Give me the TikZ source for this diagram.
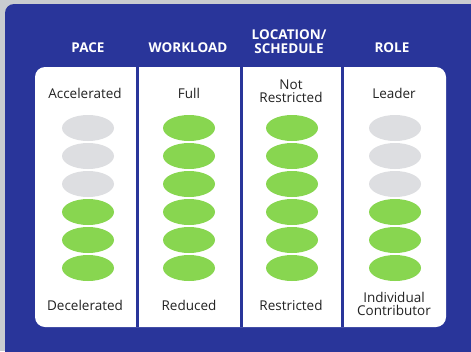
\documentclass[tikz,border=0pt]{standalone}
\usepackage{fontspec}
\setmainfont{Open Sans}
\usetikzlibrary{shapes.geometric,positioning}
\definecolor{PageGray}{HTML}{C9CCD0}
\definecolor{PanelBlue}{HTML}{29359A}
\definecolor{LevelGreen}{HTML}{88D650}
\definecolor{LevelGray}{HTML}{DDDEE1}
\definecolor{LabelInk}{HTML}{222222}

\begin{document}
\begin{tikzpicture}[
  x=1pt, y=-1pt,
  head/.style={font=\fontsize{13.5}{13.5}\selectfont\bfseries, text=white,
    align=center, inner sep=0pt},
  lbl/.style={font=\fontsize{13.5}{13.5}\selectfont, text=LabelInk,
    align=center, inner sep=0pt},
  pill/.style={ellipse, minimum width=52pt, minimum height=26pt, inner sep=0pt},
  on/.style={pill, fill=LevelGreen},
  off/.style={pill, fill=LevelGray},
  sep/.style={draw=PanelBlue, line width=3pt}
]

% Page and frame
\fill[PageGray] (0,0) rectangle (471,351);
\useasboundingbox (0,0) rectangle (471,351);
\clip (0,0) rectangle (471,351);
\fill[PanelBlue, rounded corners=9pt] (5,4) rectangle (490,370);

% White panel with column rules
\fill[white, rounded corners=10pt] (35,67) rectangle (446,327);
\draw[sep] (137.5,67) -- (137.5,327);
\draw[sep] (241,67) -- (241,327);
\draw[sep] (342.5,67) -- (342.5,327);

% Column heads
\node[head] (hdr-pace) at (88,48) {PACE};
\node[head] (hdr-work) at (188,48) {WORKLOAD};
\node[head] (hdr-loc) at (289,41.5) {LOCATION/\\SCHEDULE};
\node[head] (hdr-role) at (392,48) {ROLE};

% Upper ends
\node[lbl] (top-pace) at (85,93) {Accelerated};
\node[lbl] (top-work) at (189,93) {Full};
\node[lbl] (top-loc) at (291,91) {Not\\Restricted};
\node[lbl] (top-role) at (394,93) {Leader};

% Lower ends
\node[lbl] (bot-pace) at (85,305) {Decelerated};
\node[lbl] (bot-work) at (189,305) {Reduced};
\node[lbl] (bot-loc) at (291,305) {Restricted};
\node[lbl] (bot-role) at (394,304) {Individual\\Contributor};

% Levels
\foreach \i/\pace/\role in {1/off/off,2/off/off,3/off/off,4/on/on,5/on/on,6/on/on} {
  \node[\pace] (pace-\i) at (88,100+28*\i) {};
  \node[on] (work-\i) at (189,100+28*\i) {};
  \node[on] (loc-\i) at (292,100+28*\i) {};
  \node[\role] (role-\i) at (395,100+28*\i) {};
}

\end{tikzpicture}
\end{document}
